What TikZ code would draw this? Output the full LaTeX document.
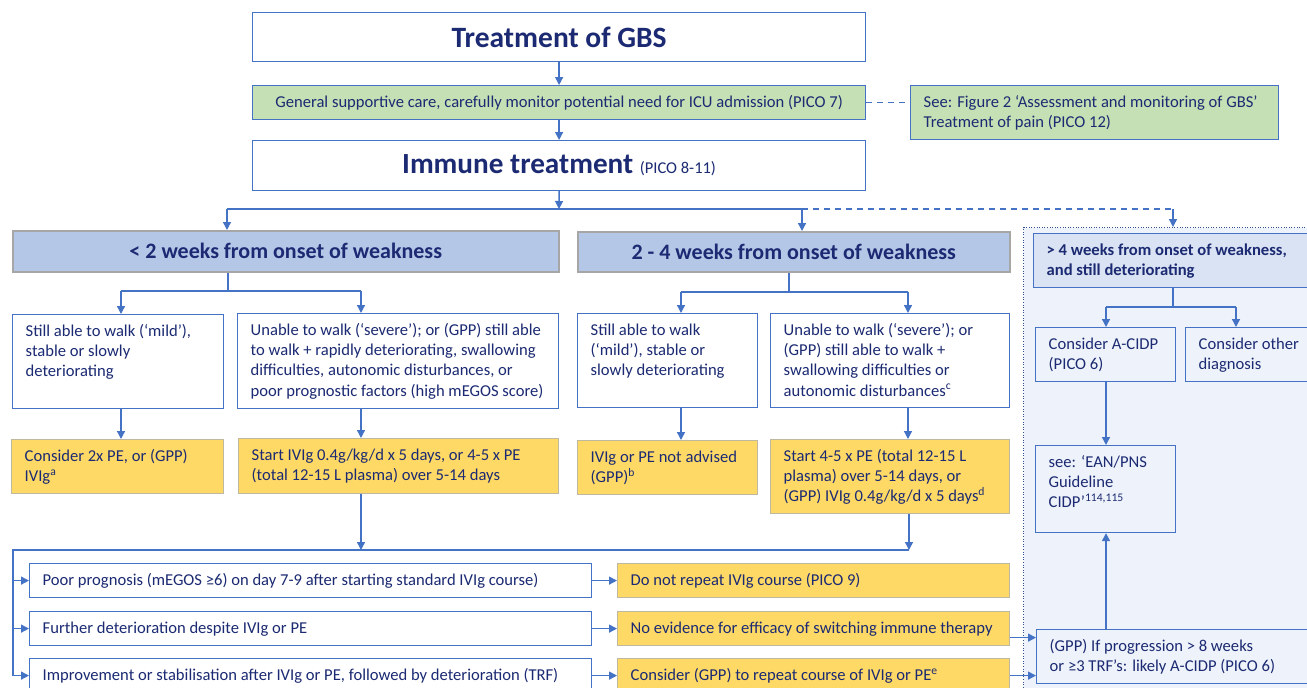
\documentclass[tikz,border=0pt]{standalone}
\usepackage{fontspec}
\setmainfont{Carlito}
\usetikzlibrary{arrows.meta}
\definecolor{ln}{HTML}{4472C4}
\definecolor{txt}{HTML}{1B2A72}
\definecolor{yel}{HTML}{FFD966}
\definecolor{ygb}{HTML}{BFB8A0}
\definecolor{hbl}{HTML}{B4C7E7}
\definecolor{hgb}{HTML}{A6A6A6}
\definecolor{grn}{HTML}{C5E0B4}
\definecolor{lbl}{HTML}{DAE3F3}
\definecolor{reg}{HTML}{EEF2FA}
\definecolor{dotc}{HTML}{2F4F8F}
\newcommand\tbx[8]{%
\node[#1, anchor=north west, minimum width=#5pt-#3pt, minimum height=#6pt-#4pt, inner sep=0pt] (#2) at (#3,#4) {};
\node[anchor=base west, inner sep=0pt] (#2-t) at ([xshift=13.5pt,yshift=-22.5pt]#2.north west) {\parbox[t]{#7pt}{\raggedright #8}};}
\begin{document}
\begin{tikzpicture}[x=1pt,y=-1pt,
  every node/.style={text=txt, font=\fontsize{16.6}{20.2}\selectfont},
  ln/.style={draw=ln, line width=1.4pt},
  arr/.style={draw=ln, line width=1.4pt, -{Triangle[width=8pt,length=8pt]}, color=ln},
  wbox/.style={draw=ln, line width=1.2pt, fill=white},
  ybox/.style={draw=ygb, line width=1.2pt, fill=yel},
  hbox/.style={draw=hgb, line width=1.5pt, fill=hbl},
  gbox/.style={draw=ln, line width=1.2pt, fill=grn},
  lbox/.style={draw=ln, line width=1.2pt, fill=lbl},
  rbox/.style={draw=ln, line width=1.2pt, fill=reg},
  dsh/.style={draw=ln, line width=1.4pt, dash pattern=on 6pt off 5pt}]
\useasboundingbox (0,0) rectangle (1307,688);
\clip (0,0) rectangle (1307,688);
\fill[white] (0,0) rectangle (1307,688);
% dotted region
\node[draw=dotc, line width=1pt, dash pattern=on 1pt off 1.6pt, fill=reg, anchor=north west, minimum width=300pt, minimum height=480pt, inner sep=0pt] (region) at (1023,227) {};
% top
\node[wbox, anchor=north west, minimum width=613pt, minimum height=49pt, font=\bfseries\fontsize{29.5}{32}\selectfont] (title) at (252,12) {Treatment of GBS};
\node[gbox, anchor=north west, minimum width=613pt, minimum height=34pt] (gsc) at (252,85) {General supportive care, carefully monitor potential need for ICU admission (PICO 7)};
\tbx{gbox}{see}{910}{85}{1278}{139}{360}{See: Figure 2 ‘Assessment and monitoring of GBS’\\ Treatment of pain (PICO 12)}
\node[wbox, anchor=north west, minimum width=613pt, minimum height=50pt, font=\bfseries\fontsize{29.2}{33}\selectfont] (imm) at (252,140) {Immune treatment {\mdseries\fontsize{16.5}{18}\selectfont (PICO 8-11)}};
\draw[arr] (title) -- (gsc);
\draw[arr] (gsc) -- (imm);
\draw[dsh] (gsc.east) -- (gsc.east -| see.west);
% split
\coordinate (jC) at (559,209);
\coordinate (jL) at (227,209);
\coordinate (jM) at (802,209);
\coordinate (jR) at (1173,209);
\draw[arr] (imm.south) -- (jC);
\draw[ln] (jL) -- (jM);
\draw[dsh] (jM) -- (jR);
% headers
\node[hbox, anchor=north west, minimum width=546pt, minimum height=41pt, font=\bfseries\fontsize{22}{26}\selectfont] (h1) at (12,230) {< 2 weeks from onset of weakness};
\node[hbox, anchor=north west, minimum width=432pt, minimum height=40pt, font=\bfseries\fontsize{22}{26}\selectfont] (h2) at (577,231) {2 - 4 weeks from onset of weakness};
\draw[arr] (jL) -- (jL |- h1.north);
\draw[arr] (jM) -- (jM |- h2.north);
\draw[arr] (jR) -- (jR |- region.north);
% boxes < 2 weeks
\tbx{wbox}{b1}{12}{314}{223}{408}{300}{Still able to walk (‘mild’),\\ stable or slowly\\ deteriorating}
\tbx{wbox}{b2}{237}{313}{558}{408}{400}{Unable to walk (‘severe’); or (GPP) still able\\ to walk + rapidly deteriorating, swallowing\\ difficulties, autonomic disturbances, or\\ poor prognostic factors (high mEGOS score)}
\tbx{ybox}{y1}{11}{439}{223}{493}{300}{Consider 2x PE, or (GPP)\\ IVIg\textsuperscript{a}}
\tbx{ybox}{y2}{238}{438}{558}{493}{400}{Start IVIg 0.4g/kg/d x 5 days, or 4-5 x PE\\ (total 12-15 L plasma) over 5-14 days}
\coordinate (s1) at (228,291);
\coordinate (s1a) at (121,291);
\coordinate (s1b) at (361,291);
\draw[ln] (h1.south -| s1) -- (s1);
\draw[ln] (s1a) -- (s1b);
\draw[arr] (s1a) -- (s1a |- b1.north);
\draw[arr] (s1b) -- (s1b |- b2.north);
\draw[arr] (b1.south -| s1a) -- (y1.north -| s1a);
\draw[arr] (b2.south -| s1b) -- (y2.north -| s1b);
% boxes 2-4 weeks
\tbx{wbox}{b3}{577}{313}{757}{407}{300}{Still able to walk\\ (‘mild’), stable or\\ slowly deteriorating}
\tbx{wbox}{b4}{770}{313}{1009}{407}{300}{Unable to walk (‘severe’); or\\ (GPP) still able to walk +\\ swallowing difficulties or\\ autonomic disturbances\textsuperscript{c}}
\tbx{ybox}{y3}{577}{440}{757}{494}{300}{IVIg or PE not advised\\ (GPP)\textsuperscript{b}}
\tbx{ybox}{y4}{770}{439}{1009}{513}{300}{Start 4-5 x PE (total 12-15 L\\ plasma) over 5-14 days, or\\ (GPP) IVIg 0.4g/kg/d x 5 days\textsuperscript{d}}
\coordinate (s2) at (789,292);
\coordinate (s2a) at (681,292);
\coordinate (s2b) at (908,292);
\draw[ln] (h2.south -| s2) -- (s2);
\draw[ln] (s2a) -- (s2b);
\draw[arr] (s2a) -- (s2a |- b3.north);
\draw[arr] (s2b) -- (s2b |- b4.north);
\draw[arr] (b3.south -| s2a) -- (y3.north -| s2a);
\draw[arr] (b4.south -| s2b) -- (y4.north -| s2b);
% > 4 weeks
\node[lbox, anchor=north west, minimum width=290pt, minimum height=54pt, inner sep=0pt] (w4) at (1033,233) {};
\node[anchor=base west, inner sep=0pt, font=\bfseries\fontsize{16.6}{20.2}\selectfont] (w4-t) at ([xshift=13.5pt,yshift=-22.5pt]w4.north west) {\parbox[t]{300pt}{\raggedright > 4 weeks from onset of weakness,\\ and still deteriorating}};
\tbx{rbox}{cidp}{1035}{327}{1175}{381}{200}{Consider A-CIDP\\ (PICO 6)}
\tbx{rbox}{oth}{1185}{327}{1325}{381}{200}{Consider other\\ diagnosis}
\tbx{rbox}{ean}{1035}{445}{1175}{532}{200}{see: ‘EAN/PNS\\ Guideline\\ CIDP’\textsuperscript{114,115}}
\tbx{rbox}{gpp}{1036}{629}{1325}{683}{300}{(GPP) If progression > 8 weeks\\ or ≥3 TRF’s: likely A-CIDP (PICO 6)}
\coordinate (s3) at (1173,307);
\coordinate (s3a) at (1106,307);
\coordinate (s3b) at (1236,307);
\draw[ln] (w4.south -| s3) -- (s3);
\draw[ln] (s3a) -- (s3b);
\draw[arr] (s3a) -- (s3a |- cidp.north);
\draw[arr] (s3b) -- (s3b |- oth.north);
\draw[arr] (cidp.south -| s3a) -- (ean.north -| s3a);
\draw[arr] (gpp.north -| s3a) -- (ean.south -| s3a);
% bottom rows
\tbx{wbox}{r1}{29}{563}{591}{597}{560}{Poor prognosis (mEGOS ≥6) on day 7-9 after starting standard IVIg course)}
\tbx{wbox}{r2}{29}{611}{591}{645}{560}{Further deterioration despite IVIg or PE}
\tbx{wbox}{r3}{29}{658}{591}{692}{560}{Improvement or stabilisation after IVIg or PE, followed by deterioration (TRF)}
\tbx{ybox}{yr1}{617}{563}{1009}{597}{390}{Do not repeat IVIg course (PICO 9)}
\tbx{ybox}{yr2}{617}{611}{1009}{645}{390}{No evidence for efficacy of switching immune therapy}
\tbx{ybox}{yr3}{617}{658}{1009}{692}{390}{Consider (GPP) to repeat course of IVIg or PE\textsuperscript{e}}
\coordinate (busL) at (13,550);
\coordinate (busR) at (909,550);
\draw[arr] (y2.south -| s1b) -- (busL -| s1b);
\draw[arr] (y4.south -| busR) -- (busR);
\draw[ln] (busR) -- (busL) -- (busL |- r3.west);
\draw[arr] (busL |- r1.west) -- (r1.west);
\draw[arr] (busL |- r2.west) -- (r2.west);
\draw[arr] (busL |- r3.west) -- (r3.west);
\draw[arr] (r1.east) -- (yr1.west);
\draw[arr] (r2.east) -- (yr2.west);
\draw[arr] (r3.east) -- (yr3.west);
\draw[arr] ([yshift=-9pt]yr2.east) -- ([yshift=-9pt]yr2.east -| gpp.west);
\draw[arr] (yr3.east) -- (yr3.east -| gpp.west);
\end{tikzpicture}
\end{document}
